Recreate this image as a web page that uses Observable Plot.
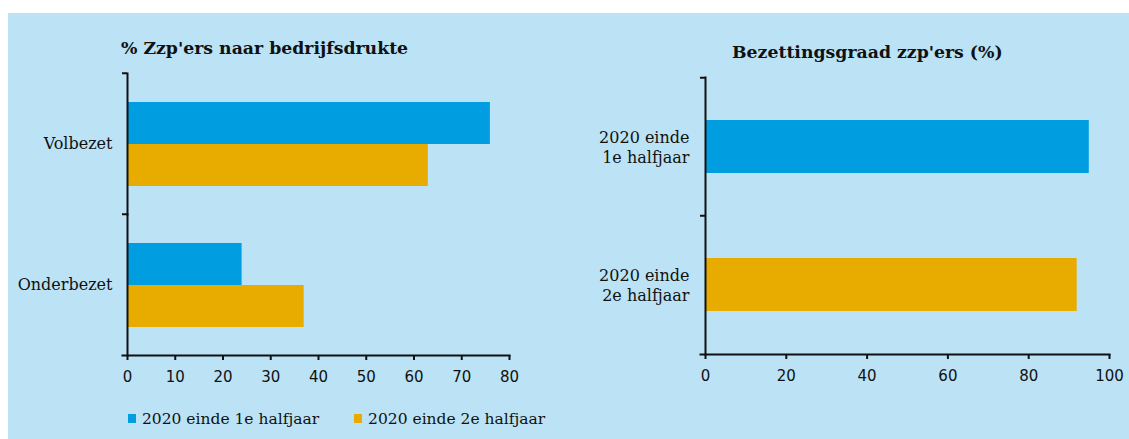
<!DOCTYPE html>
<html>
<head>
<meta charset="utf-8">
<script src="https://cdn.jsdelivr.net/npm/d3@7"></script>
<script src="https://cdn.jsdelivr.net/npm/@observablehq/plot@0.6"></script>
<style>
  html, body { margin: 0; padding: 0; background: #ffffff; width: 1129px; height: 439px; overflow: hidden; }
  #panel { position: absolute; left: 8px; top: 13px; width: 1121px; height: 426px; background: #bbe3f5; }
  .chart { position: absolute; top: 0; }
  .title { position: absolute; font-family: "DejaVu Serif", serif; font-weight: bold; font-size: 17.3px; color: #111; white-space: nowrap; line-height: 20px; }
  .legend { position: absolute; top: 408px; left: 128px; font-family: "DejaVu Serif", serif; font-size: 15.5px; color: #111; white-space: nowrap; line-height: 20px; }
  .legend span.item { display: inline-flex; align-items: center; margin-right: 35px; }
  .legend span.sw { display: inline-block; width: 8px; height: 9px; margin-right: 6px; }
</style>
</head>
<body>
<div id="panel"></div>
<div id="left" class="chart" style="left:0px"></div>
<div id="right" class="chart" style="left:560px"></div>
<div class="title" style="left:121px; top:38px">% Zzp'ers naar bedrijfsdrukte</div>
<div class="title" style="left:732px; top:42px">Bezettingsgraad zzp'ers (%)</div>
<div class="legend" id="legend"></div>
<script>
// ---- data ----
const categories = ["Volbezet", "Onderbezet"];
const series = ["2020 einde 1e halfjaar", "2020 einde 2e halfjaar"];
const firstHalf = [76, 24];
const secondHalf = [63, 37];
const rateLabels = ["2020 einde\n1e halfjaar", "2020 einde\n2e halfjaar"];
const rates = [95, 92];
const leftTicks = [0, 10, 20, 30, 40, 50, 60, 70, 80];
const rightTicks = [0, 20, 40, 60, 80, 100];
const colors = ["#009ee0", "#e8ab00"];

const serif = "'DejaVu Serif', serif";
const sans = "'DejaVu Sans', sans-serif";
const ink = "#111";

// ---- left chart ----
const leftData = categories.flatMap((c, i) => [
  {cat: c, s: series[0], v: firstHalf[i]},
  {cat: c, s: series[1], v: secondHalf[i]}
]);
const L = {width: 560, height: 400, mt: 72, mb: 45, ml: 127, mr: 51};
const leftStep = (L.height - L.mt - L.mb) / categories.length;

const left = Plot.plot({
  width: L.width, height: L.height,
  marginLeft: L.ml, marginRight: L.mr, marginTop: L.mt, marginBottom: L.mb,
  style: {background: "transparent", fontFamily: serif, fontSize: "14px", color: ink},
  x: {domain: [0, 80]},
  y: {domain: series, axis: null, paddingInner: 0, paddingOuter: 0.645},
  fy: {domain: categories, padding: 0},
  color: {domain: series, range: colors},
  marks: [
    Plot.barX(leftData, {x: "v", y: "s", fy: "cat", fill: "s"}),
    Plot.frame({anchor: "left", stroke: ink, strokeWidth: 2}),
    Plot.frame({anchor: "bottom", facetAnchor: "bottom", stroke: ink, strokeWidth: 2, insetLeft: -5}),
    Plot.axisFy({anchor: "left", tickSize: 0, tickPadding: 15, label: null, fontSize: 16, fontFamily: serif}),
    Plot.axisFy({anchor: "left", tickSize: 5, text: null, label: null, dy: -leftStep / 2, strokeWidth: 2}),
    Plot.axisX({ticks: leftTicks, tickSize: 5, tickPadding: 11, label: null, strokeWidth: 2, fontFamily: sans, fontSize: 15})
  ]
});
document.getElementById("left").append(left);

// ---- right chart ----
const rightData = rateLabels.map((l, i) => ({lab: l, v: rates[i], s: series[i]}));
const R = {width: 569, height: 400, mt: 77, mb: 46, ml: 145, mr: 20};
const rightStep = (R.height - R.mt - R.mb) / rateLabels.length;

const right = Plot.plot({
  width: R.width, height: R.height,
  marginLeft: R.ml, marginRight: R.mr, marginTop: R.mt, marginBottom: R.mb,
  style: {background: "transparent", fontFamily: serif, fontSize: "14px", color: ink},
  x: {domain: [0, 100]},
  y: {domain: rateLabels, paddingInner: 0.617, paddingOuter: 0.3085},
  color: {domain: series, range: colors},
  marks: [
    Plot.barX(rightData, {x: "v", y: "lab", fill: "s"}),
    Plot.frame({anchor: "left", stroke: ink, strokeWidth: 2}),
    Plot.frame({anchor: "bottom", stroke: ink, strokeWidth: 2, insetLeft: -5}),
    Plot.axisY({tickSize: 0, tickPadding: 16, label: null, fontSize: 16, fontFamily: serif, lineHeight: 1.25}),
    Plot.axisY({tickSize: 5, text: null, label: null, dy: -rightStep / 2, strokeWidth: 2}),
    Plot.axisX({ticks: rightTicks, tickSize: 5, tickPadding: 11, label: null, strokeWidth: 2, fontFamily: sans, fontSize: 15})
  ]
});
document.getElementById("right").append(right);

// ---- legend ----
const legend = document.getElementById("legend");
series.forEach((s, i) => {
  const item = document.createElement("span");
  item.className = "item";
  const sw = document.createElement("span");
  sw.className = "sw";
  sw.style.background = colors[i];
  item.append(sw, document.createTextNode(s));
  legend.append(item);
});
</script>
</body>
</html>
